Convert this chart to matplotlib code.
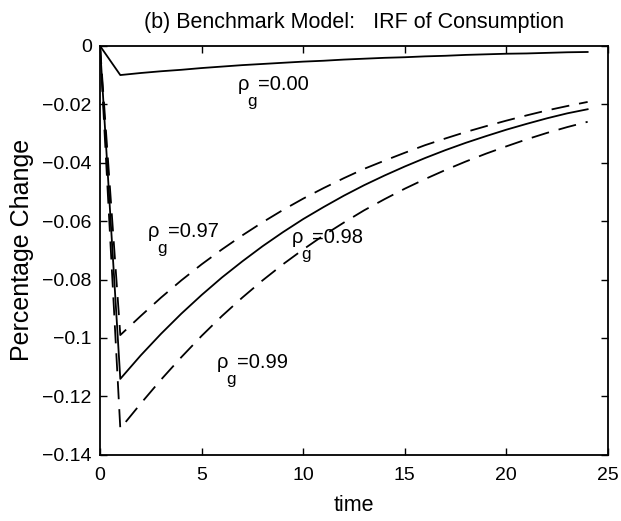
import matplotlib
matplotlib.use("Agg")
import matplotlib.pyplot as plt
from matplotlib.transforms import offset_copy

plt.rcParams['font.family'] = ['Liberation Sans', 'DejaVu Sans']

# impulse responses, t = 0..24
time = list(range(25))
irf_000 = [0, -0.0100, -0.0093, -0.0087, -0.0082, -0.0076, -0.0071, -0.0066, -0.0062,
           -0.0058, -0.0054, -0.0051, -0.0047, -0.0044, -0.0041, -0.0039, -0.0036,
           -0.0034, -0.0031, -0.0029, -0.0027, -0.0026, -0.0024, -0.0022, -0.0021]
irf_097 = [0, -0.0990, -0.0925, -0.0862, -0.0803, -0.0748, -0.0697, -0.0649, -0.0604,
           -0.0562, -0.0523, -0.0487, -0.0453, -0.0421, -0.0393, -0.0366, -0.0340,
           -0.0317, -0.0295, -0.0275, -0.0256, -0.0238, -0.0221, -0.0206, -0.0192]
irf_098 = [0, -0.1140, -0.1060, -0.0986, -0.0917, -0.0853, -0.0793, -0.0738, -0.0686,
           -0.0638, -0.0593, -0.0552, -0.0513, -0.0477, -0.0444, -0.0413, -0.0384,
           -0.0357, -0.0332, -0.0309, -0.0287, -0.0267, -0.0248, -0.0231, -0.0217]
irf_099 = [0, -0.1310, -0.1225, -0.1143, -0.1066, -0.0993, -0.0925, -0.0862, -0.0803,
           -0.0748, -0.0697, -0.0649, -0.0605, -0.0563, -0.0525, -0.0489, -0.0456,
           -0.0425, -0.0396, -0.0369, -0.0344, -0.0320, -0.0298, -0.0278, -0.0260]

rho_values = ['0.00', '0.97', '0.98', '0.99']
label_x = [6.79, 2.36, 9.45, 5.76]
label_y = [-0.0151, -0.0654, -0.0674, -0.1102]

yticks = [0, -0.02, -0.04, -0.06, -0.08, -0.1, -0.12, -0.14]
ytick_labels = ['0', '\u22120.02', '\u22120.04', '\u22120.06', '\u22120.08',
                '\u22120.1', '\u22120.12', '\u22120.14']
xticks = [0, 5, 10, 15, 20, 25]

fig = plt.figure(figsize=(6.21, 5.21), dpi=100)
ax = fig.add_axes([0.161, 0.127, 0.818, 0.785])

ax.plot(time, irf_000, color='black', lw=1.3)
ax.plot(time, irf_098, color='black', lw=1.3)
ax.plot(time, irf_097, color='black', lw=1.3, dashes=(10, 5.5))
ax.plot(time, irf_099, color='black', lw=1.3, dashes=(10, 5.5))

# rho_g labels: rho, lowered g, then "=value"
fs = 14.5
for x, y, v in zip(label_x, label_y, rho_values):
    ax.text(x, y, '\u03c1', fontsize=fs)
    tg = offset_copy(ax.transData, fig=fig, x=9.5, y=-16, units='dots')
    ax.text(x, y, 'g', fontsize=fs * 0.85, transform=tg)
    te = offset_copy(ax.transData, fig=fig, x=20, y=0, units='dots')
    ax.text(x, y, '=' + v, fontsize=fs, transform=te)

ax.set_xlim(0, 25)
ax.set_ylim(-0.14, 0)
ax.set_xticks(xticks)
ax.set_yticks(yticks)
ax.set_yticklabels(ytick_labels)
ax.tick_params(direction='in', length=5, width=1, top=True, right=True,
               labelsize=14)
ax.tick_params(axis='x', pad=9)
ax.tick_params(axis='y', pad=6)
for s in ax.spines.values():
    s.set_linewidth(1.3)

ax.set_xlabel('time', fontsize=15.5, labelpad=8)
ax.set_ylabel('Percentage Change', fontsize=18, labelpad=6)
ax.set_title('(b) Benchmark Model:   IRF of Consumption', fontsize=15.5, pad=13)

fig.savefig('out.png', dpi=100)
